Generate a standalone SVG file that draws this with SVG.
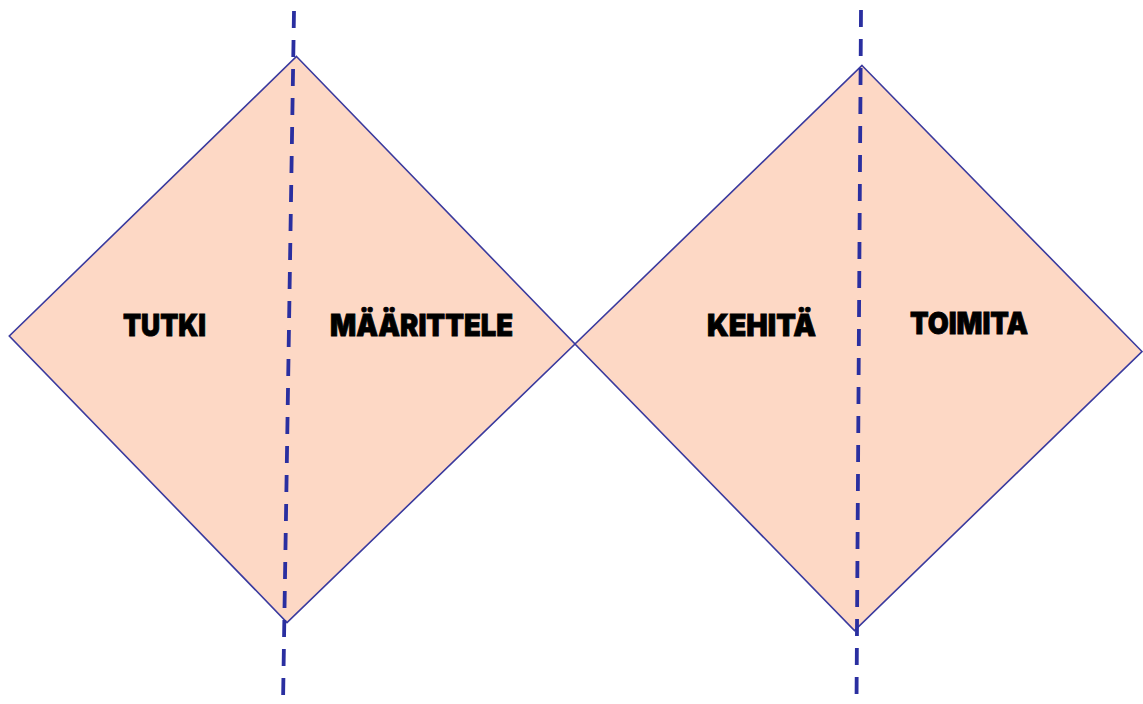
<svg xmlns="http://www.w3.org/2000/svg" width="1143" height="704" viewBox="0 0 1143 704">
<style>
.d{fill:#FDD8C5;stroke:#3A3A9E;stroke-width:1.6;stroke-linejoin:miter}
.c{stroke:#2A2FA0;stroke-width:3.8;stroke-dasharray:17 12;fill:none}
.t{font-family:Inter,"Liberation Sans",sans-serif;font-weight:900;font-size:30px;fill:#000;stroke:#000;stroke-width:0.8}
</style>
<rect width="1143" height="704" fill="#fff"/>
<g id="diamond1"><polygon class="d" points="296.5,56.5 575,344 287,622.5 9.3,336"/></g>
<g id="diamond2"><polygon class="d" points="862,65.5 1142,351.5 854.5,630.5 575,344"/></g>
<g id="connectors">
<line class="c" x1="294" y1="11" x2="283" y2="704"/>
<line class="c" x1="861" y1="10" x2="856.5" y2="704"/>
</g>
<g id="tutki"><text class="t" x="123" y="336" textLength="83" lengthAdjust="spacingAndGlyphs">TUTKI</text></g>
<g id="maarittele"><text class="t" x="330" y="336" textLength="183" lengthAdjust="spacingAndGlyphs">MÄÄRITTELE</text></g>
<g id="kehita"><text class="t" x="707" y="336" textLength="109" lengthAdjust="spacingAndGlyphs">KEHITÄ</text></g>
<g id="toimita"><text class="t" x="910" y="334" textLength="118" lengthAdjust="spacingAndGlyphs">TOIMITA</text></g>
</svg>
